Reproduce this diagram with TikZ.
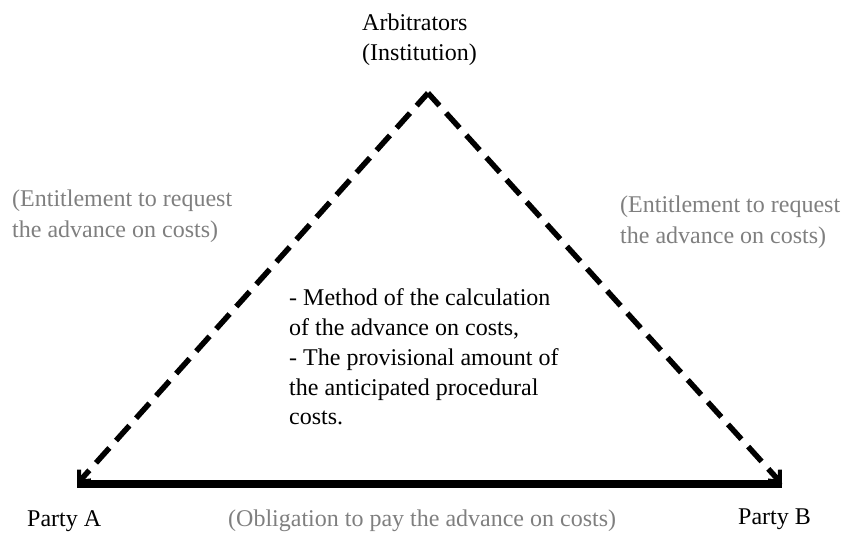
\documentclass[tikz,border=0pt]{standalone}
\usepackage{fontspec}
\setmainfont{Liberation Serif}
\usetikzlibrary{arrows.meta}
\definecolor{labelgray}{HTML}{7F7F7F}
\begin{document}
\begin{tikzpicture}[x=1pt,y=-1pt,
  lbl/.style={font=\fontsize{24}{30}\selectfont, inner sep=0pt, anchor=base west},
  note/.style={lbl, text=labelgray},
  dashline/.style={line width=5.5pt, dash pattern=on 20pt off 10pt, dash phase=3pt,
    -{Straight Barb[length=9pt,width=16pt,line width=4pt]}},
  solidline/.style={line width=7.5pt}]
\useasboundingbox (0,0) rectangle (843,533);
% corners
\coordinate (apex) at (428,93);
\coordinate (A) at (77,484);
\coordinate (B) at (782,484);
% triangle
\draw[solidline] (A) -- (B);
\draw[dashline] (apex) -- (A);
\draw[dashline] (apex) -- (B);
% top label
\node[lbl] (arb1) at (362,30) {Arbitrators};
\node[lbl] (arb2) at (362,60) {(Institution)};
% side labels
\node[note] (l1) at (12,206) {(Entitlement to request};
\node[note] (l2) at (12,237) {the advance on costs)};
\node[note] (r1) at (620,212) {(Entitlement to request};
\node[note] (r2) at (620,243) {the advance on costs)};
% center text
\node[lbl] (c1) at (289,305) {- Method of the calculation};
\node[lbl] (c2) at (289,335) {of the advance on costs,};
\node[lbl] (c3) at (289,365) {- The provisional amount of};
\node[lbl] (c4) at (289,395) {the anticipated procedural};
\node[lbl] (c5) at (289,424) {costs.};
% bottom labels
\node[lbl] (pa) at (27,526) {Party A};
\node[lbl] (pb) at (738,524) {Party B};
\node[note] (obl) at (228,526) {(Obligation to pay the advance on costs)};
\end{tikzpicture}
\end{document}
